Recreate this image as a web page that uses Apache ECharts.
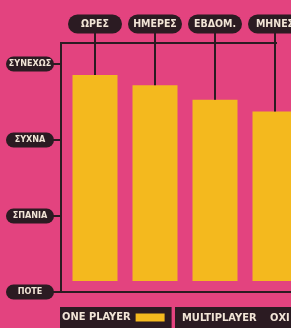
<!DOCTYPE html>
<html><head><meta charset="utf-8">
<script src="https://cdn.jsdelivr.net/npm/echarts@6/dist/echarts.min.js"></script>
<style>html,body{margin:0;padding:0;background:#e3437f}#c{width:291px;height:328px}</style>
</head><body><div id="c"></div>
<script>
const categories = ['ΩΡΕΣ', 'ΗΜΕΡΕΣ', 'ΕΒΔΟΜ.', 'ΜΗΝΕΣ'];
const frequencyLabels = ['ΠΟΤΕ', 'ΣΠΑΝΙΑ', 'ΣΥΧΝΑ', 'ΣΥΝΕΧΩΣ'];
const onePlayer = [2.855, 2.72, 2.53, 2.375];
const seriesName = 'ONE PLAYER';
const otherLegend = ['MULTIPLAYER', 'ΟΧΙ'];
const barBase = 0.145;

const DARK = '#2b1b22', PINK = '#e3437f', YELLOW = '#f4b91e', CREAM = '#f1e4d6';
const FONT = "'DejaVu Sans Condensed','Liberation Sans Narrow',sans-serif";

const chart = echarts.init(document.getElementById('c'));
chart.setOption({
  backgroundColor: PINK,
  animation: false,
  grid: { left: 65, width: 240, top: 64, bottom: 36, containLabel: false, outerBoundsMode: 'none' },
  legend: {
    data: [seriesName], left: 60, top: 307, align: 'right',
    padding: [5, 7, 5, 2], backgroundColor: DARK,
    itemWidth: 29, itemHeight: 8, icon: 'rect',
    textStyle: { color: CREAM, fontFamily: FONT, fontWeight: 'bold', fontSize: 11 }
  },
  xAxis: [
    { type: 'category', data: categories, position: 'bottom',
      axisLine: { lineStyle: { color: DARK, width: 2 } },
      axisTick: { inside: true, length: 10, alignWithLabel: true, lineStyle: { color: DARK, width: 2 } },
      axisLabel: { show: false } },
    { type: 'category', data: categories, position: 'top',
      axisLine: { show: false }, axisTick: { show: false },
      axisLabel: { interval: 0, hideOverlap: false, margin: 34, formatter: v => '{p|' + v + '}',
        rich: { p: { width: 42, align: 'center', backgroundColor: DARK, borderRadius: 10,
          padding: [4, 6], lineHeight: 12, color: CREAM, fontFamily: FONT, fontWeight: 'bold', fontSize: 10.5 } } } }
  ],
  yAxis: {
    type: 'value', min: 0, max: 3, interval: 1, offset: 4,
    splitLine: { show: false },
    axisLine: { show: true, lineStyle: { color: DARK, width: 2 } },
    axisTick: { show: true, length: 8, lineStyle: { color: DARK, width: 2 } },
    axisLabel: { margin: 7, formatter: v => '{p|' + frequencyLabels[v] + '}',
      rich: { p: { width: 36, align: 'center', backgroundColor: DARK, borderRadius: 9,
        padding: [3, 6], lineHeight: 11, color: CREAM, fontFamily: FONT, fontWeight: 'bold', fontSize: 9 } } }
  },
  series: [
    { type: 'bar', name: 'base', stack: 's', barWidth: 45, silent: true,
      itemStyle: { color: 'rgba(0,0,0,0)' }, data: onePlayer.map(() => barBase) },
    { type: 'bar', name: seriesName, stack: 's', barWidth: 45,
      itemStyle: { color: YELLOW }, data: onePlayer.map(v => v - barBase) },
    { type: 'custom', name: 'connectors', data: onePlayer.map((v, i) => [i, v]), z: 5,
      renderItem: (params, api) => {
        const p = api.coord([api.value(0), api.value(1)]);
        const top = api.coord([api.value(0), 3])[1] - 31;
        return { type: 'line', shape: { x1: p[0], y1: top, x2: p[0], y2: p[1] },
          style: { stroke: DARK, lineWidth: 2 } };
      } }
  ],
  graphic: [
    { type: 'polyline', shape: { points: [[61, 64], [61, 43], [277, 43]] }, style: { stroke: DARK, lineWidth: 2, fill: null } },
    { type: 'line', shape: { x1: 60, y1: 292, x2: 66, y2: 292 }, style: { stroke: DARK, lineWidth: 2 } },
    { type: 'rect', shape: { x: 175, y: 307, width: 130, height: 25 }, style: { fill: DARK } },
    { type: 'text', x: 182, y: 318, style: { text: otherLegend[0], fill: CREAM, font: 'bold 11px ' + FONT, verticalAlign: 'middle' } },
    { type: 'text', x: 270, y: 318, style: { text: otherLegend[1], fill: CREAM, font: 'bold 11px ' + FONT, verticalAlign: 'middle' } }
  ]
});
</script></body></html>
